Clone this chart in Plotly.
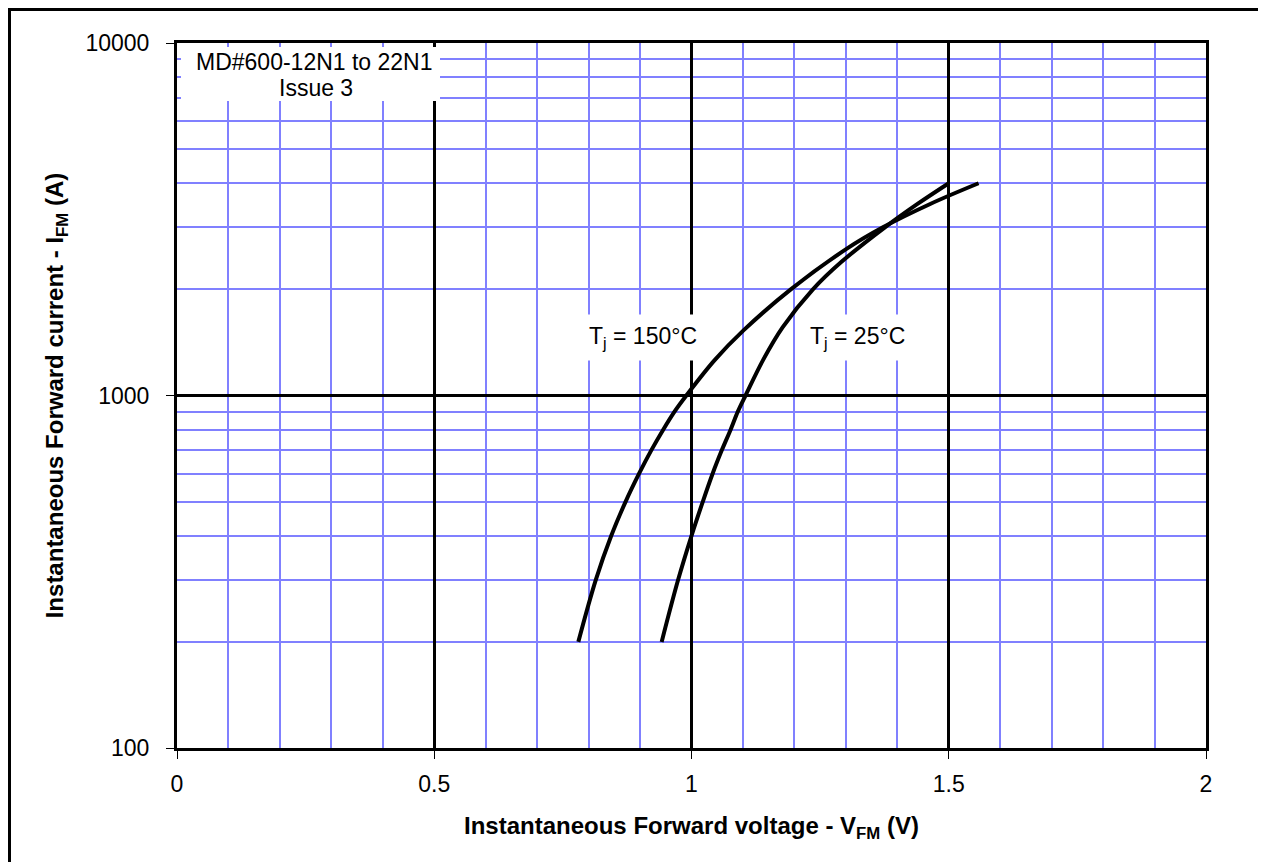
import plotly.graph_objects as go

# ---- data ----
v_150 = [0.780, 0.814, 0.844, 0.872, 0.898, 0.922, 0.945, 0.967, 0.990, 1.045, 1.101, 1.193, 1.302, 1.372, 1.465, 1.558]
i_150 = [200, 300, 400, 500, 600, 700, 800, 900, 1000, 1260, 1530, 2000, 2610, 3000, 3500, 4000]
v_25 = [0.942, 0.974, 1.000, 1.022, 1.041, 1.059, 1.076, 1.090, 1.105, 1.139, 1.177, 1.236, 1.291, 1.376, 1.440, 1.500]
i_25 = [200, 300, 400, 500, 600, 700, 800, 900, 1000, 1260, 1560, 2000, 2390, 3000, 3500, 4000]

x_ticks = [0, 0.5, 1, 1.5, 2]
x_ticktext = ["0", "0.5", "1", "1.5", "2"]
y_ticks = [100, 1000, 10000]
y_ticktext = ["100", "1000", "10000"]
y_minor = [m * d for d in (100, 1000) for m in range(2, 10)]

FONT = "Liberation Sans, Arial, sans-serif"
BLUE = "#8080ff"

# page has an 8px body margin; size the figure so it fits the window
OFF = 8
W, H = 1258, 854
L, R, T, B = 169, 60, 35, 114
PW, PH = W - L - R, H - T - B


def px(xpage):
    return (xpage - OFF - L) / PW


def py(ypage):
    return (H - B - (ypage - OFF)) / PH


fig = go.Figure()
fig.add_trace(go.Scatter(x=v_150, y=i_150, mode="lines", name="Tj = 150°C",
                         line=dict(color="black", width=4, shape="spline", smoothing=1.0)))
fig.add_trace(go.Scatter(x=v_25, y=i_25, mode="lines", name="Tj = 25°C",
                         line=dict(color="black", width=4, shape="spline", smoothing=1.0)))

fig.update_layout(
    width=W, height=H,
    margin=dict(l=L, r=R, t=T, b=B),
    paper_bgcolor="white", plot_bgcolor="white",
    showlegend=False,
    font=dict(family=FONT, size=23, color="black"),
    xaxis=dict(
        range=[0, 2], tickmode="array", tickvals=x_ticks, ticktext=x_ticktext,
        showgrid=True, gridcolor="black", gridwidth=2.5,
        minor=dict(dtick=0.1, showgrid=True, gridcolor=BLUE, gridwidth=1.5, ticks=""),
        showline=True, linecolor="black", linewidth=3, mirror=True,
        ticks="outside", ticklen=8, tickwidth=1, tickcolor="black",
        ticklabelstandoff=5,
        zeroline=False, tickfont=dict(size=23),
        title=dict(text="<b>Instantaneous Forward voltage - V<sub>FM</sub> (V)</b>",
                   font=dict(size=24), standoff=22),
    ),
    yaxis=dict(
        type="log", range=[2, 4], tickmode="array", tickvals=y_ticks, ticktext=y_ticktext,
        showgrid=True, gridcolor="black", gridwidth=2.5,
        minor=dict(tickmode="array", tickvals=y_minor, showgrid=True, gridcolor=BLUE, gridwidth=1.5, ticks=""),
        showline=True, linecolor="black", linewidth=3, mirror=True,
        ticks="outside", ticklen=8, tickwidth=1, tickcolor="black",
        ticklabelstandoff=12,
        zeroline=False, tickfont=dict(size=23),
        title=dict(text="<b>Instantaneous Forward current - I<sub>FM</sub> (A)</b>",
                   font=dict(size=24), standoff=16),
    ),
)

# outer frame of the figure
fig.add_shape(type="rect", xref="paper", yref="paper",
              x0=(1.5 - L) / PW, x1=px(1262.5), y0=py(900), y1=(H - B - 1.5) / PH,
              line=dict(color="black", width=3), fillcolor="rgba(0,0,0,0)", layer="below")
# white box behind the document label
fig.add_shape(type="rect", xref="paper", yref="paper",
              x0=px(181), x1=px(440), y0=py(101), y1=py(47),
              line=dict(width=0), fillcolor="white", layer="above")

fig.add_annotation(text="MD#600-12N1 to 22N1", xref="paper", yref="paper",
                   x=px(314), y=py(61.7), xanchor="center", yanchor="middle",
                   showarrow=False, font=dict(size=23))
fig.add_annotation(text="Issue 3", xref="paper", yref="paper",
                   x=px(316), y=py(88.3), xanchor="center", yanchor="middle",
                   showarrow=False, font=dict(size=23))

fig.add_annotation(text="T<sub>j</sub> = 150°C", x=0.906, y=3.165, xref="x", yref="y",
                   showarrow=False, bgcolor="white", borderpad=8, font=dict(size=23))
fig.add_annotation(text="T<sub>j</sub> = 25°C", x=1.323, y=3.165, xref="x", yref="y",
                   showarrow=False, bgcolor="white", borderpad=8, font=dict(size=23))

fig.write_html("out.html")
